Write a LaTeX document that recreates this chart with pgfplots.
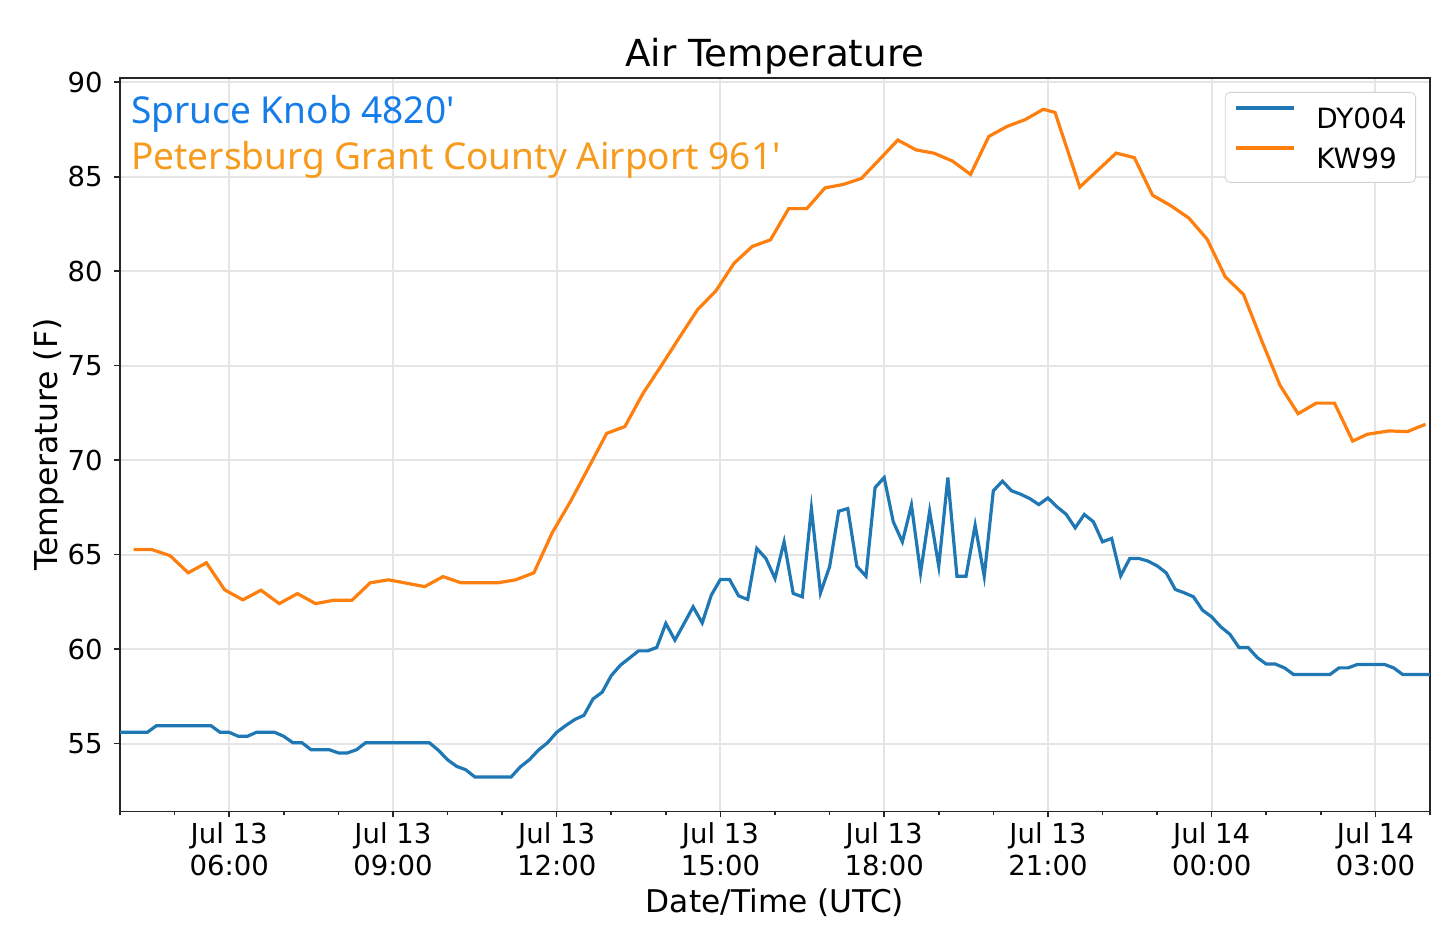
\documentclass[border=0pt]{standalone}
\usepackage{pgfplots}
\pgfplotsset{compat=1.18}
\usepackage{pgfplotstable}
\usepackage{fontspec}
\setmainfont{DejaVu Sans}
\newfontfamily\annfont{Noto Sans}[Ligatures=TeXOff]
\definecolor{tabblue}{HTML}{1F77B4}
\definecolor{taborange}{HTML}{FF7F0E}
\definecolor{annblue}{RGB}{22,125,232}
\definecolor{annorange}{RGB}{247,155,30}

% DY004, 10-minute data, hours after Jul 13 00:00 UTC
\pgfplotstableread{
t T
4.0000 55.60
4.1667 55.60
4.3333 55.60
4.5000 55.60
4.6667 55.95
4.8333 55.95
5.0000 55.95
5.1667 55.95
5.3333 55.95
5.5000 55.95
5.6667 55.95
5.8333 55.60
6.0000 55.60
6.1667 55.39
6.3333 55.39
6.5000 55.60
6.6667 55.60
6.8333 55.60
7.0000 55.39
7.1667 55.05
7.3333 55.05
7.5000 54.68
7.6667 54.68
7.8333 54.68
8.0000 54.51
8.1667 54.51
8.3333 54.68
8.5000 55.05
8.6667 55.05
8.8333 55.05
9.0000 55.05
9.1667 55.05
9.3333 55.05
9.5000 55.05
9.6667 55.05
9.8333 54.65
10.0000 54.15
10.1667 53.80
10.3333 53.62
10.5000 53.24
10.6667 53.24
10.8333 53.24
11.0000 53.24
11.1667 53.24
11.3333 53.77
11.5000 54.15
11.6667 54.66
11.8333 55.05
12.0000 55.60
12.1667 55.96
12.3333 56.28
12.5000 56.50
12.6667 57.37
12.8333 57.72
13.0000 58.60
13.1667 59.15
13.3333 59.53
13.5000 59.91
13.6667 59.91
13.8333 60.09
14.0000 61.36
14.1667 60.48
14.3333 61.35
14.5000 62.24
14.6667 61.39
14.8333 62.86
15.0000 63.69
15.1667 63.69
15.3333 62.82
15.5000 62.63
15.6667 65.33
15.8333 64.80
16.0000 63.74
16.1667 65.68
16.3333 62.95
16.5000 62.77
16.6667 67.44
16.8333 62.98
17.0000 64.36
17.1667 67.30
17.3333 67.44
17.5000 64.39
17.6667 63.86
17.8333 68.55
18.0000 69.08
18.1667 66.74
18.3333 65.68
18.5000 67.62
18.6667 64.04
18.8333 67.30
19.0000 64.39
19.1667 69.08
19.3333 63.86
19.5000 63.86
19.6667 66.56
19.8333 63.86
20.0000 68.38
20.1667 68.89
20.3333 68.38
20.5000 68.20
20.6667 67.97
20.8333 67.65
21.0000 68.00
21.1667 67.53
21.3333 67.14
21.5000 66.42
21.6667 67.13
21.8333 66.74
22.0000 65.68
22.1667 65.86
22.3333 63.88
22.5000 64.80
22.6667 64.80
22.8333 64.66
23.0000 64.41
23.1667 64.04
23.3333 63.16
23.5000 62.98
23.6667 62.77
23.8333 62.06
24.0000 61.71
24.1667 61.18
24.3333 60.79
24.5000 60.09
24.6667 60.09
24.8333 59.56
25.0000 59.21
25.1667 59.21
25.3333 59.01
25.5000 58.66
25.6667 58.66
25.8333 58.66
26.0000 58.66
26.1667 58.66
26.3333 59.01
26.5000 59.01
26.6667 59.19
26.8333 59.19
27.0000 59.19
27.1667 59.19
27.3333 59.01
27.5000 58.66
27.6667 58.66
27.8333 58.66
28.0000 58.66
}\dyzero

% KW99, 20-minute data
\pgfplotstableread{
t T
4.250 65.27
4.583 65.27
4.917 64.95
5.250 64.04
5.583 64.57
5.917 63.14
6.250 62.61
6.583 63.12
6.917 62.41
7.250 62.94
7.583 62.41
7.917 62.59
8.250 62.59
8.583 63.51
8.917 63.67
9.250 63.49
9.583 63.31
9.917 63.84
10.250 63.51
10.583 63.51
10.917 63.51
11.250 63.67
11.583 64.04
11.917 66.15
12.250 67.80
12.583 69.60
12.917 71.42
13.250 71.78
13.583 73.54
13.917 75.00
14.250 76.50
14.583 77.97
14.917 78.96
15.250 80.42
15.583 81.31
15.917 81.66
16.250 83.31
16.583 83.31
16.917 84.41
17.250 84.59
17.583 84.91
17.917 85.92
18.250 86.94
18.583 86.42
18.917 86.24
19.250 85.83
19.583 85.12
19.917 87.13
20.250 87.66
20.583 88.02
20.917 88.57
21.130 88.40
21.583 84.45
22.250 86.25
22.583 86.01
22.917 84.02
23.250 83.47
23.583 82.81
23.917 81.69
24.250 79.70
24.583 78.77
24.917 76.32
25.250 73.97
25.583 72.46
25.917 73.02
26.250 73.02
26.583 71.01
26.850 71.37
27.250 71.55
27.583 71.51
27.917 71.90
}\kwnn

\begin{document}
\begin{tikzpicture}
\begin{axis}[
  name=ax,
  scale only axis, width=655bp, height=366.9bp,
  xmin=4, xmax=28, ymin=51.41, ymax=90.24,
  xtick={6,9,...,27},
  xticklabels={{Jul 13\\06:00},{Jul 13\\09:00},{Jul 13\\12:00},{Jul 13\\15:00},{Jul 13\\18:00},{Jul 13\\21:00},{Jul 14\\00:00},{Jul 14\\03:00}},
  minor xtick={4,5,...,28},
  ytick={55,60,...,90},
  xtick pos=bottom, ytick pos=left,
  tick align=outside,
  major tick length=3bp, minor tick length=2bp,
  tick style={black!85, line width=0.8bp},
  axis line style={black!85, line width=0.9bp},
  grid=major,
  major grid style={black!10, line width=1bp},
  /pgf/number format/assume math mode=true,
  ticklabel style={font=\fontsize{13.8}{16}\selectfont},
  xticklabel style={align=center, anchor=north, inner sep=0pt, yshift=-2.2bp},
  yticklabel style={anchor=east, inner sep=0pt, xshift=-5.5bp},
  title={Air Temperature},
  title style={at={(axis description cs:0.5,1)}, anchor=base, yshift=-0.5bp, inner sep=0pt, font=\fontsize{18.7}{22}\selectfont},
  xlabel={Date/Time (UTC)},
  xlabel style={at={(axis description cs:0.5,-0.1376)}, anchor=base, inner sep=0pt, font=\fontsize{15.7}{18}\selectfont},
  ylabel={Temperature (F)},
  ylabel style={at={(axis description cs:-0.0479,0.5)}, anchor=base, inner sep=0pt, font=\fontsize{15.8}{18}\selectfont},
  legend style={at={(axis description cs:1,1)}, anchor=north east, xshift=-7bp, yshift=-7.15bp,
    draw=black!18, rounded corners=2.5bp, fill=white, inner xsep=4.5bp, inner ysep=7bp,
    row sep=9bp, column sep=10.5bp,
    font=\fontsize{14}{16}\selectfont,
    nodes={inner sep=0pt, text height=10.2bp, text depth=0pt}},
  legend cell align=left,
  legend image code/.code={\draw[#1] (0bp,5.1bp) -- (29bp,5.1bp);},
]
\addplot[tabblue, line width=1.6bp] table[x=t, y=T] {\dyzero};
\addlegendentry{DY004}
\addplot[taborange, line width=1.6bp] table[x=t, y=T] {\kwnn};
\addlegendentry{KW99}
\node[anchor=base west, inner sep=0pt, text=annblue, font=\annfont\fontsize{18.6}{22}\selectfont] at (rel axis cs:0.0082,0.9372) {Spruce Knob 4820'};
\node[anchor=base west, inner sep=0pt, text=annorange, font=\annfont\fontsize{18.6}{22}\selectfont] at (rel axis cs:0.0082,0.8754) {Petersburg Grant County Airport 961'};
\end{axis}
\path (ax.south west) ++(-60bp,-68.25bp) coordinate (BL);
\path (ax.north east) ++(5bp,38.85bp) coordinate (TR);
\path[draw=none] (BL) rectangle (TR);
\end{tikzpicture}
\end{document}
